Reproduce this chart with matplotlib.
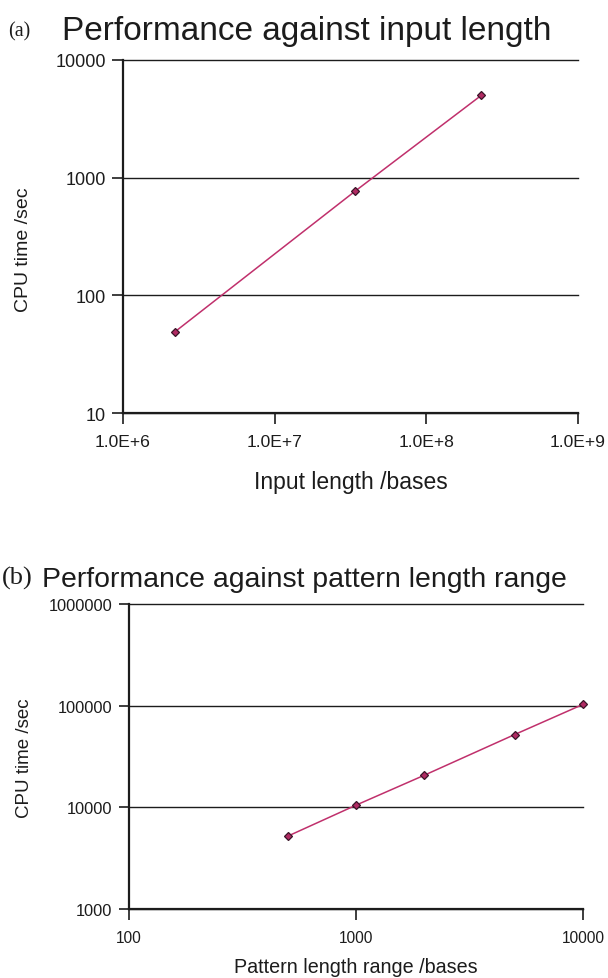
import matplotlib
matplotlib.use("Agg")
import matplotlib.pyplot as plt
from matplotlib.ticker import LogLocator, NullLocator, FuncFormatter

plt.rcParams['font.family'] = ['Liberation Sans', 'DejaVu Sans']

# (a) CPU time against input length
a_length = [2.2e6, 3.4e7, 2.3e8]
a_cpu = [49, 770, 5000]

# (b) CPU time against pattern length range
b_range = [500, 1000, 2000, 5000, 10000]
b_cpu = [5200, 10500, 20700, 52000, 103000]

line_col = '#c0306c'
ink = '#1c1c1c'


def sci_label(v, pos):
    m, e = f"{v:.1E}".split('E')
    return f"{m}E+{int(e)}"


def int_label(v, pos):
    return f"{v:.0f}"


def style_axis(ax, xfs, yfs, tlen):
    for s in ('top', 'right'):
        ax.spines[s].set_visible(False)
    for s in ('left', 'bottom'):
        ax.spines[s].set_linewidth(1.6)
        ax.spines[s].set_color(ink)
    ax.xaxis.set_minor_locator(NullLocator())
    ax.yaxis.set_minor_locator(NullLocator())
    ax.tick_params(axis='x', direction='out', length=8, width=1.2, pad=7,
                   labelsize=xfs, colors=ink)
    ax.tick_params(axis='y', direction='out', length=tlen, width=1.2, pad=4.5,
                   labelsize=yfs, colors=ink)
    ax.yaxis.grid(True, color=ink, linewidth=1.0)
    ax.xaxis.grid(False)
    for gl in ax.get_ygridlines():
        gl.set_clip_on(False)


fig = plt.figure(figsize=(6.08, 9.79), dpi=100)

# ---- panel (a)
ax1 = fig.add_axes([0.2023, 0.5771, 0.7484, 0.3606])
ax1.plot(a_length, a_cpu, color=line_col, lw=1.1, marker='D', markersize=4,
         markerfacecolor='#b02a62', markeredgecolor='#3a1528', markeredgewidth=0.9,
         clip_on=False, zorder=3)
ax1.set_xscale('log')
ax1.set_yscale('log')
ax1.set_xlim(1e6, 1e9)
ax1.set_ylim(10, 10000)
ax1.xaxis.set_major_locator(LogLocator(base=10, numticks=10))
ax1.yaxis.set_major_locator(LogLocator(base=10, numticks=10))
ax1.xaxis.set_major_formatter(FuncFormatter(sci_label))
ax1.yaxis.set_major_formatter(FuncFormatter(int_label))
style_axis(ax1, 12.6, 13, 8)
ax1.set_xlabel('Input length /bases', fontsize=16.5, color=ink, labelpad=15)
ax1.set_ylabel('CPU time /sec', fontsize=14, color=ink)
ax1.yaxis.set_label_coords(-0.200, 0.465)

fig.text(8 / 608, 1 - 36 / 979, '(a)', family=['Liberation Serif', 'DejaVu Serif'],
         fontsize=14.5, color=ink, va='baseline')
fig.text(62 / 608, 1 - 40 / 979, 'Performance against input length',
         fontsize=24, color=ink, va='baseline')

# ---- panel (b)
ax2 = fig.add_axes([0.2122, 0.0705, 0.7467, 0.3115])
ax2.plot(b_range, b_cpu, color=line_col, lw=1.1, marker='D', markersize=4,
         markerfacecolor='#b02a62', markeredgecolor='#3a1528', markeredgewidth=0.9,
         clip_on=False, zorder=3)
ax2.set_xscale('log')
ax2.set_yscale('log')
ax2.set_xlim(100, 10000)
ax2.set_ylim(1000, 1000000)
ax2.xaxis.set_major_locator(LogLocator(base=10, numticks=10))
ax2.yaxis.set_major_locator(LogLocator(base=10, numticks=10))
ax2.xaxis.set_major_formatter(FuncFormatter(int_label))
ax2.yaxis.set_major_formatter(FuncFormatter(int_label))
style_axis(ax2, 11.2, 11.8, 7.5)
ax2.set_xlabel('Pattern length range /bases', fontsize=14.2, color=ink, labelpad=9)
ax2.set_ylabel('CPU time /sec', fontsize=13.5, color=ink)
ax2.yaxis.set_label_coords(-0.211, 0.498)

fig.text(2 / 608, 1 - 585 / 979, '(b)', family=['Liberation Serif', 'DejaVu Serif'],
         fontsize=19, color=ink, va='baseline')
fig.text(42 / 608, 1 - 587 / 979, 'Performance against pattern length range',
         fontsize=20.4, color=ink, va='baseline')

fig.savefig('out.png', dpi=100)
